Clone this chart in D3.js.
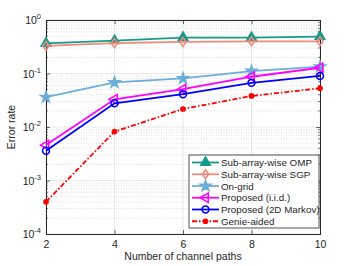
<!DOCTYPE html>
<html>
<head>
<meta charset="utf-8">
<script src="https://cdn.jsdelivr.net/npm/d3@7"></script>
<style>
  body { margin: 0; background: #fff; }
  text { font-family: "Liberation Sans", Arial, sans-serif; fill: #262626; }
</style>
</head>
<body>
<svg id="chart" width="354" height="266"></svg>
<script>
// Data
// ----
const paths = [2, 4, 6, 8, 10];
const omp = [0.366, 0.41, 0.47, 0.47, 0.49];
const sgp = [0.327, 0.37, 0.39, 0.40, 0.40];
const onGrid = [0.036, 0.068, 0.081, 0.111, 0.134];
const iid = [0.0046, 0.033, 0.051, 0.087, 0.128];
const markov = [0.0036, 0.0277, 0.041, 0.067, 0.09];
const genie = [0.0004, 0.0082, 0.0217, 0.038, 0.053];
const yDecades = [-4, -3, -2, -1, 0];

const series = [
  { name: "Sub-array-wise OMP", values: omp, color: "#159a8c", marker: "triUp", fill: true, dash: null },
  { name: "Sub-array-wise SGP", values: sgp, color: "#ee8a78", marker: "diamond", fill: false, dash: null },
  { name: "On-grid", values: onGrid, color: "#6caed8", marker: "star", fill: true, dash: null },
  { name: "Proposed (i.i.d.)", values: iid, color: "#ff00ff", marker: "triLeft", fill: false, dash: null },
  { name: "Proposed (2D Markov)", values: markov, color: "#0000ff", marker: "circle", fill: false, dash: null },
  { name: "Genie-aided", values: genie, color: "#ff0000", marker: "dot", fill: true, dash: "5,2,1.5,2" }
];

// Layout
// ------
const margin = { left: 46, right: 34, top: 20, bottom: 32 };
const W = 354, H = 266;
const svg = d3.select("#chart");
const x = d3.scaleLinear().domain([2, 10]).range([margin.left, W - margin.right]);
const y = d3.scaleLog().domain([1e-4, 1]).range([H - margin.bottom, margin.top]);

const g = svg.append("g");

// Grid
const minor = [];
yDecades.slice(0, -1).forEach(e => {
  for (let k = 2; k <= 9; k++) minor.push(k * Math.pow(10, e));
});
g.selectAll(".minor").data(minor).enter().append("line")
  .attr("x1", x(2)).attr("x2", x(10))
  .attr("y1", d => y(d)).attr("y2", d => y(d))
  .attr("stroke", "#c8c8c8").attr("stroke-width", 0.6).attr("stroke-dasharray", "1,1.5");
g.selectAll(".majorY").data(yDecades).enter().append("line")
  .attr("x1", x(2)).attr("x2", x(10))
  .attr("y1", d => y(Math.pow(10, d))).attr("y2", d => y(Math.pow(10, d)))
  .attr("stroke", "#e2e2e2").attr("stroke-width", 0.8);
g.selectAll(".majorX").data(paths).enter().append("line")
  .attr("x1", d => x(d)).attr("x2", d => x(d))
  .attr("y1", y(1)).attr("y2", y(1e-4))
  .attr("stroke", "#e2e2e2").attr("stroke-width", 0.8);

// Axes (MATLAB-ish box with inward ticks)
const axisColor = "#262626";
const xAxis = d3.axisBottom(x).tickValues(paths).tickSize(-4).tickPadding(7).tickFormat(d3.format("d"));
const xa = g.append("g").attr("transform", `translate(0,${y(1e-4)})`).call(xAxis);
const xTop = g.append("g").attr("transform", `translate(0,${y(1)})`)
  .call(d3.axisTop(x).tickValues(paths).tickSize(-4).tickFormat(""));
const yAxis = d3.axisLeft(y).tickValues(yDecades.map(e => Math.pow(10, e))).tickSize(-4).tickPadding(6).tickFormat("");
const ya = g.append("g").attr("transform", `translate(${x(2)},0)`).call(yAxis);
const yRight = g.append("g").attr("transform", `translate(${x(10)},0)`)
  .call(d3.axisRight(y).tickValues(yDecades.map(e => Math.pow(10, e))).tickSize(-4).tickFormat(""));
[xa, xTop, ya, yRight].forEach(a => {
  a.select(".domain").attr("stroke", axisColor).attr("stroke-width", 1);
  a.selectAll(".tick line").attr("stroke", axisColor).attr("stroke-width", 0.7);
  a.selectAll("text").attr("font-size", 10.5).attr("fill", axisColor)
    .style("font-family", "Liberation Sans, Arial, sans-serif");
});
// minor ticks on log axes
[x(2), x(10)].forEach((px, i) => {
  g.selectAll(null).data(minor).enter().append("line")
    .attr("x1", px).attr("x2", px + (i === 0 ? 2 : -2))
    .attr("y1", d => y(d)).attr("y2", d => y(d))
    .attr("stroke", axisColor).attr("stroke-width", 0.6);
});

// Y tick labels with superscripts
const yl = g.selectAll(".ylab").data(yDecades).enter().append("text")
  .attr("x", x(2) - 5).attr("y", d => y(Math.pow(10, d)) + 4)
  .attr("text-anchor", "end").attr("font-size", 10.5);
yl.append("tspan").text("10");
yl.append("tspan").attr("dy", -5).attr("font-size", 7.5).text(d => d === 0 ? "0" : "-" + Math.abs(d));

// Axis titles
g.append("text").attr("x", (x(2) + x(10)) / 2).attr("y", 260)
  .attr("text-anchor", "middle").attr("font-size", 10.5).text("Number of channel paths");
g.append("text").attr("transform", `translate(15,${(y(1) + y(1e-4)) / 2}) rotate(-90)`)
  .attr("text-anchor", "middle").attr("font-size", 10.5).text("Error rate");

// Markers
function markerPath(type) {
  switch (type) {
    case "triUp": return d3.symbol(d3.symbolTriangle, 40)();
    case "triLeft": return d3.symbol(d3.symbolTriangle, 40)();
    case "diamond": return "M0,-4.5L3.2,0L0,4.5L-3.2,0Z";
    case "star": return d3.symbol(d3.symbolStar, 36)();
    case "circle": return d3.symbol(d3.symbolCircle, 38)();
    case "dot": return d3.symbol(d3.symbolCircle, 14)();
  }
}
function drawMarker(sel, s) {
  sel.append("path")
    .attr("d", markerPath(s.marker))
    .attr("transform", s.marker === "triLeft" ? "rotate(-90)" : null)
    .attr("fill", s.fill ? s.color : "none")
    .attr("stroke", s.color)
    .attr("stroke-width", 1.5);
}

// Lines
const line = d3.line().x((d, i) => x(paths[i])).y(d => y(d));
series.forEach(s => {
  g.append("path").datum(s.values)
    .attr("d", line).attr("fill", "none")
    .attr("stroke", s.color).attr("stroke-width", 1.8)
    .attr("stroke-dasharray", s.dash);
  s.values.forEach((v, i) => {
    const m = g.append("g").attr("transform", `translate(${x(paths[i])},${y(v)})`);
    drawMarker(m, s);
  });
});

// Legend
const lg = g.append("g").attr("transform", "translate(189,155)");
const lw = x(10) - 1 - 189, lh = 73;
lg.append("rect").attr("width", lw).attr("height", lh)
  .attr("fill", "#fff").attr("stroke", axisColor).attr("stroke-width", 0.8);
series.forEach((s, i) => {
  const row = lg.append("g").attr("transform", `translate(0,${7.5 + i * 11.75})`);
  row.append("line").attr("x1", 3).attr("x2", 30).attr("y1", 0).attr("y2", 0)
    .attr("stroke", s.color).attr("stroke-width", 1.8).attr("stroke-dasharray", s.dash);
  const m = row.append("g").attr("transform", "translate(16.5,0)");
  drawMarker(m, s);
  row.append("text").attr("x", 32).attr("y", 3.5).attr("font-size", 9.8).text(s.name);
});
</script>
</body>
</html>
